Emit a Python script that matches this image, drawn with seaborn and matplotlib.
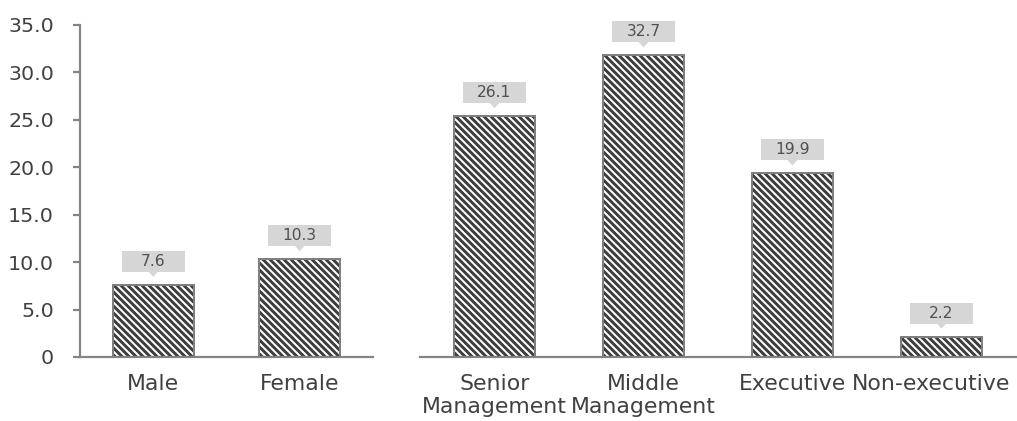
import matplotlib
matplotlib.use("Agg")
import matplotlib.pyplot as plt
import matplotlib.transforms as mtransforms
from matplotlib.patches import Rectangle, Polygon
import seaborn as sns

# ---- data -------------------------------------------------------------
gender_labels = ["Male", "Female"]
gender_values = [7.6, 10.3]

level_labels = ["Senior\nManagement", "Middle\nManagement", "Executive", "Non-executive"]
level_values = [26.1, 32.7, 19.9, 2.2]

y_ticks = [0, 5, 10, 15, 20, 25, 30, 35]
y_tick_labels = ["0", "5.0", "10.0", "15.0", "20.0", "25.0", "30.0", "35.0"]

# ---- styling ----------------------------------------------------------
DPI = 84
W, H = 1017, 421


def pt(px):
    """Convert a pixel measure to points at the output resolution."""
    return px * 72.0 / DPI


BAR_FACE = "#3d3d3d"
BAR_EDGE = "#7f7f7f"
AXIS_GREY = "#858585"
TEXT = "#404040"
CALLOUT_TEXT = "#505050"
CALLOUT = "#d6d6d6"

sns.set_style("white")
plt.rcParams["font.family"] = ["DejaVu Sans"]
plt.rcParams["hatch.linewidth"] = pt(2.0)

fig = plt.figure(figsize=(W / DPI, H / DPI), dpi=DPI)
fig.patch.set_facecolor("white")

ax1 = fig.add_axes([80 / W, (H - 357) / H, 293 / W, 332 / H])
ax2 = fig.add_axes([420 / W, (H - 357) / H, 596 / W, 332 / H])


def draw_bars(ax, labels, values):
    sns.barplot(x=labels, y=values, order=labels, ax=ax, color=BAR_FACE,
                saturation=1, width=0.55, errorbar=None,
                edgecolor="white", linewidth=0, hatch="\\" * 4, zorder=2)
    n_before = len(ax.patches)
    sns.barplot(x=labels, y=values, order=labels, ax=ax, color=BAR_EDGE,
                saturation=1, width=0.55, errorbar=None, fill=False,
                linewidth=pt(2.0), zorder=3)
    for p in ax.patches[n_before:]:
        p.set_facecolor("none")
        p.set_edgecolor(BAR_EDGE)
        p.set_linewidth(pt(2.0))


def callouts(ax, values):
    """Grey value boxes with a small pointer, placed above each bar."""
    scale = mtransforms.Affine2D().scale(DPI / 72.0)
    box_w, box_h, gap, tip = pt(63), pt(21), pt(8), pt(5)
    for i, v in enumerate(values):
        tr = scale + mtransforms.ScaledTranslation(i, v, ax.transData)
        ax.add_patch(Rectangle((-box_w / 2, gap + tip), box_w, box_h,
                               transform=tr, facecolor=CALLOUT,
                               edgecolor="none", clip_on=False, zorder=5))
        ax.add_patch(Polygon([(-pt(5), gap + tip + 0.5), (pt(5), gap + tip + 0.5),
                              (0, gap)], closed=True, transform=tr,
                             facecolor=CALLOUT, edgecolor="none",
                             clip_on=False, zorder=5))
        ax.text(0, gap + tip + box_h / 2, f"{v:.1f}", transform=tr,
                ha="center", va="center", fontsize=pt(15.5), color=CALLOUT_TEXT,
                zorder=6, clip_on=False)


def style_axis(ax, n, show_y):
    ax.set_xlim(-0.5, n - 0.5)
    for side in ("top", "right"):
        ax.spines[side].set_visible(False)
    ax.spines["bottom"].set_color(AXIS_GREY)
    ax.spines["bottom"].set_linewidth(pt(2.2))
    # category boundary ticks hang below the axis line
    ax.set_xticks([k - 0.5 for k in range(n + 1)], minor=True)
    ax.tick_params(axis="x", which="minor", direction="out", length=pt(7),
                   width=pt(2.2), color=AXIS_GREY)
    ax.tick_params(axis="x", which="major", length=0, pad=pt(17),
                   labelsize=pt(22), labelcolor=TEXT)
    ax.set_xlabel("")
    ax.set_ylabel("")
    if show_y:
        ax.spines["left"].set_color(AXIS_GREY)
        ax.spines["left"].set_linewidth(pt(2.2))
        ax.set_yticks(y_ticks)
        ax.set_yticklabels(y_tick_labels)
        ax.tick_params(axis="y", direction="out", length=pt(7), width=pt(2.2),
                       color=AXIS_GREY, pad=pt(19), labelsize=pt(20.5),
                       labelcolor=TEXT, left=True)
    else:
        ax.spines["left"].set_visible(False)
        ax.set_yticks([])


draw_bars(ax1, gender_labels, gender_values)
ax1.set_ylim(0, 35)
style_axis(ax1, len(gender_labels), True)
callouts(ax1, gender_values)

draw_bars(ax2, level_labels, level_values)
ax2.set_ylim(0, 36)
style_axis(ax2, len(level_labels), False)
callouts(ax2, level_values)

for ax in (ax1, ax2):
    ax.set_facecolor("none")
    for lbl in ax.get_xticklabels():
        lbl.set_linespacing(1.2)

# the last category name sits against the right edge, so ease it inward
last = ax2.xaxis.get_major_ticks()[-1].label1
last.set_transform(last.get_transform()
                   + mtransforms.ScaledTranslation(-10 / DPI, 0, fig.dpi_scale_trans))

fig.savefig("out.png", dpi=DPI, facecolor="white")
